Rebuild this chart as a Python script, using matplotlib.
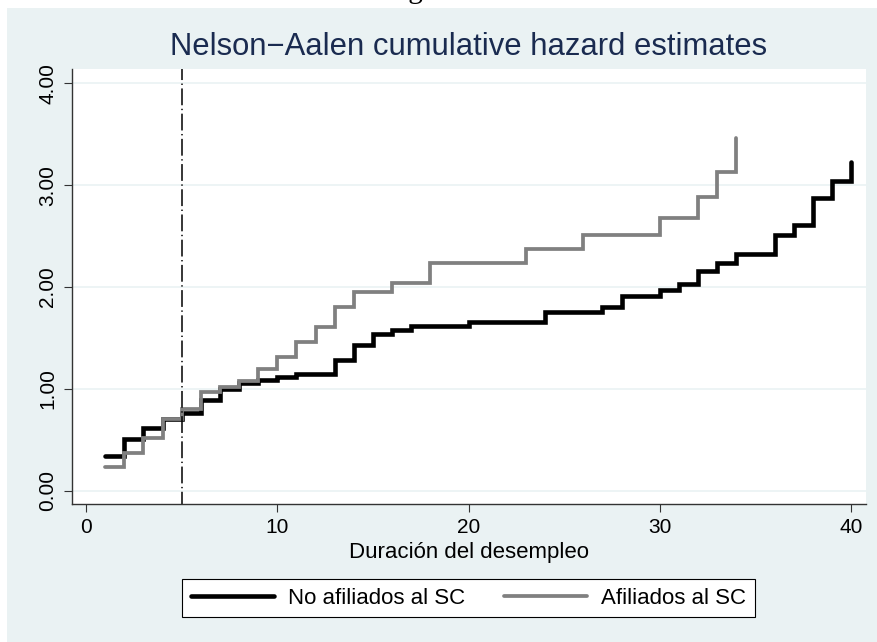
import matplotlib
matplotlib.use("Agg")
import matplotlib.pyplot as plt
from matplotlib.patches import Rectangle

plt.rcParams['font.family'] = ['Liberation Sans', 'DejaVu Sans']

# tiempos de evento y Nelson-Aalen acumulado
t_no = [1, 2, 3, 4, 5, 6, 7, 8, 9, 10, 11, 13, 14, 15, 16, 17, 20, 24, 27, 28,
        30, 31, 32, 33, 34, 36, 37, 38, 39, 40]
h_no = [0.34, 0.51, 0.62, 0.70, 0.76, 0.89, 1.00, 1.06, 1.09, 1.12, 1.15, 1.28,
        1.43, 1.54, 1.58, 1.62, 1.66, 1.75, 1.80, 1.91, 1.97, 2.03, 2.16, 2.24,
        2.32, 2.51, 2.61, 2.87, 3.04, 3.23]

t_si = [1, 2, 3, 4, 5, 6, 7, 8, 9, 10, 11, 12, 13, 14, 16, 18, 23, 26, 30, 32, 33, 34]
h_si = [0.23, 0.37, 0.52, 0.70, 0.80, 0.97, 1.02, 1.08, 1.20, 1.31, 1.46, 1.61,
        1.80, 1.95, 2.04, 2.24, 2.37, 2.51, 2.68, 2.88, 3.13, 3.46]

yticks = [0, 1, 2, 3, 4]
ytick_labels = ['0.00', '1.00', '2.00', '3.00', '4.00']
xticks = [0, 10, 20, 30, 40]
corte = 5

W, H = 878, 642
fig = plt.figure(figsize=(W / 100, H / 100), dpi=100)
fig.patch.set_facecolor('white')
fig.patches.append(Rectangle((7 / W, 0), 1 - 7 / W, 1 - 8 / H, transform=fig.transFigure,
                             facecolor='#EAF2F3', edgecolor='none', zorder=-5))

# texto cortado arriba
fig.text(422 / W, 1 + 2 / H, 'Figura', family='Liberation Serif', fontsize=21,
         ha='center', va='baseline', color='black')

ax = fig.add_axes([71.7 / W, 1 - 504.3 / H, (865.7 - 71.7) / W, (504.3 - 69.3) / H])
ax.set_facecolor('white')
ax.set_xlim(-0.75, 40.76)
ax.set_ylim(-0.133, 4.137)

l1, = ax.step(t_no, h_no, where='post', color='black', lw=3.3,
              solid_capstyle='round', solid_joinstyle='miter')
l2, = ax.step(t_si, h_si, where='post', color='#808080', lw=2.7,
              solid_capstyle='round', solid_joinstyle='miter')
ax.axvline(corte, color='black', lw=1.1, linestyle=(3, (11, 2.3, 0.9, 2.3)))

ax.set_yticks(yticks)
ax.set_yticklabels(ytick_labels, rotation=90, va='center')
ax.set_xticks(xticks)
ax.yaxis.grid(True, color='#EAF2F3', lw=1.2)
ax.set_axisbelow(True)

for s in ['top', 'right']:
    ax.spines[s].set_visible(False)
for s in ['left', 'bottom']:
    ax.spines[s].set_color('#333333')
    ax.spines[s].set_linewidth(1.0)

ax.tick_params(axis='both', direction='out', length=5.5, width=0.8, color='#333333',
               labelsize=15)
ax.tick_params(axis='y', pad=5)
ax.tick_params(axis='x', pad=4.5)

ax.set_xlabel('Duración del desempleo', fontsize=16, labelpad=3.5)

fig.text(468.7 / W, 1 - 55 / H, 'Nelson\u2212Aalen cumulative hazard estimates',
         ha='center', va='baseline', fontsize=22.3, color='#1A2B50')

leg = fig.legend([l1, l2], ['No afiliados al SC', 'Afiliados al SC'], loc='center',
                 bbox_to_anchor=(468.7 / W, 1 - 598 / H), ncol=2, frameon=True,
                 fancybox=False, edgecolor='black', facecolor='white', framealpha=1,
                 fontsize=16, handlelength=3.72, handletextpad=0.65,
                 columnspacing=1.73, borderpad=0.4)
leg.get_frame().set_linewidth(0.8)

fig.savefig('out.png', dpi=100)
